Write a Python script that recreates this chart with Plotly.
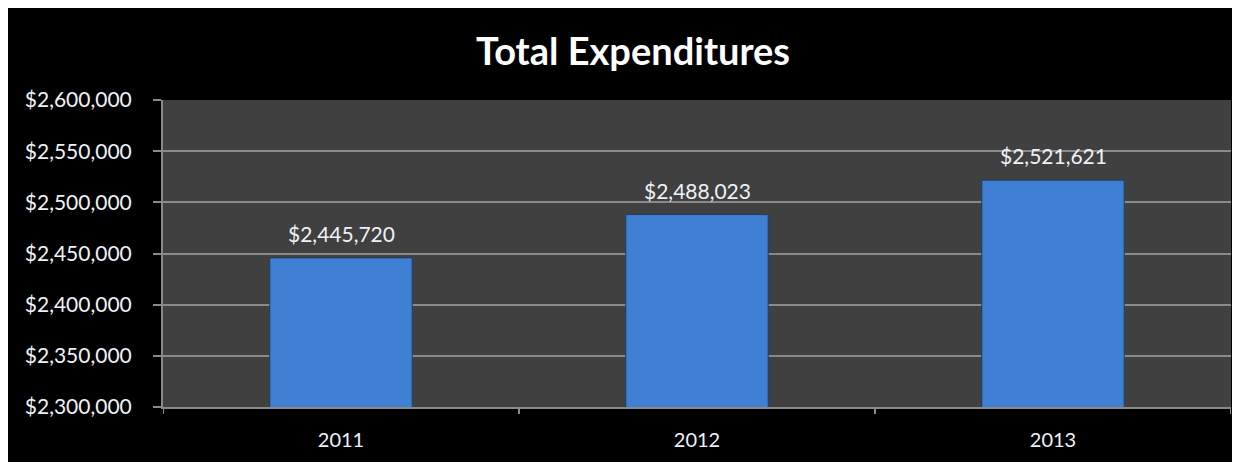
import plotly.graph_objects as go

years = ["2011", "2012", "2013"]
expenditures = [2445720, 2488023, 2521621]
y_ticks = [2300000, 2350000, 2400000, 2450000, 2500000, 2550000, 2600000]
y_tick_labels = ["${:,}".format(v) for v in y_ticks]
title_text = "Total Expenditures"

# page has an 8px body margin; figure fills the rest of the window
W, H = 1232, 454
L, R, T, B = 155, 9, 92, 55
pw = W - L - R

FONT = "Lato"
TXT = "#eef2f8"

fig = go.Figure()
fig.add_trace(go.Bar(
    x=list(range(len(years))), y=expenditures,
    marker=dict(color="#3f80d4", line=dict(color="#1d3d66", width=1)),
    width=0.4,
    hoverinfo="skip",
))

for i, v in enumerate(expenditures):
    fig.add_annotation(x=i, y=v, xref="x", yref="y", text="${:,}".format(v),
                       showarrow=False, yanchor="bottom", yshift=10,
                       font=dict(family=FONT, size=21, color=TXT))

fig.update_layout(
    width=W, height=H,
    margin=dict(l=L, r=R, t=T, b=B, pad=0),
    paper_bgcolor="black",
    plot_bgcolor="#404040",
    showlegend=False,
    title=dict(text="<b>" + title_text + "</b>", x=(625 - L) / pw, xanchor="center",
               xref="paper", y=(H - 44) / H, yanchor="middle",
               font=dict(family=FONT, size=38, color="white")),
    xaxis=dict(
        type="linear",
        tickvals=list(range(len(years))), ticktext=years,
        showgrid=False, showline=True, linecolor="#8a8a8a", linewidth=2,
        ticks="", 
        tickfont=dict(family=FONT, size=20, color=TXT),
        ticklabelstandoff=14,
        range=[-0.5, 2.5], zeroline=False,
    ),
    yaxis=dict(
        range=[2300000, 2600000],
        tickvals=y_ticks, ticktext=y_tick_labels,
        showgrid=True, gridcolor="#8a8a8a", gridwidth=2,
        showline=True, linecolor="#8a8a8a", linewidth=2,
        ticks="outside", ticklen=8, tickcolor="#8a8a8a", tickwidth=2,
        tickfont=dict(family=FONT, size=21, color=TXT),
        ticklabelstandoff=17,
        zeroline=False,
    ),
)

# category boundary tick marks below the x axis
for b in [-0.5, 0.5, 1.5, 2.5]:
    fig.add_shape(type="line", xref="x", yref="paper", layer="above",
                  x0=b, x1=b, y0=0, y1=-7 / (H - T - B),
                  line=dict(color="#8a8a8a", width=2))

fig.write_html("out.html")
